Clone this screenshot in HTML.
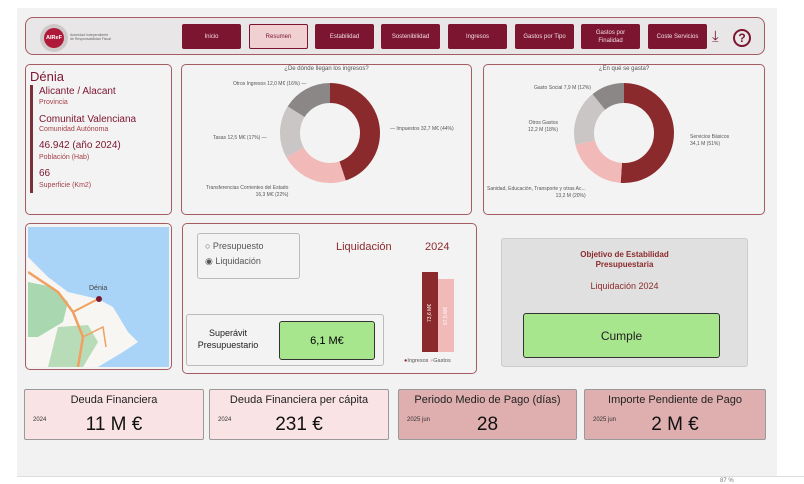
<!DOCTYPE html>
<html><head><meta charset="utf-8"><style>
*{margin:0;padding:0;box-sizing:border-box}
body{width:804px;height:484px;background:#fff;font-family:"Liberation Sans",sans-serif;position:relative;overflow:hidden}
.bg{position:absolute;left:17px;top:8px;width:760px;height:468px;background:#f3f2f2}
.a{position:absolute}
.panel{position:absolute;border:1px solid #a35d62;border-radius:5px;background:#f4f3f3}
.btn{position:absolute;top:24px;height:25px;width:59px;background:#7b1530;color:#f3dfe3;font-size:6px;display:flex;align-items:center;justify-content:center;text-align:center;border-radius:2px;line-height:8px}
.lbl{position:absolute;font-size:5px;color:#555;white-space:nowrap;line-height:7px}
.card{position:absolute;top:389px;height:51px;border:1px solid #999;border-radius:2px}
.card .t{position:absolute;top:4px;width:100%;text-align:center;font-size:11px;color:#222}
.card .y{position:absolute;left:8px;top:27px;font-size:6px;color:#333}
.card .v{position:absolute;top:24px;width:100%;text-align:center;font-size:19px;color:#111}
</style></head><body>
<div class="bg"></div>
<!-- nav -->
<div class="panel" style="left:25px;top:17px;width:740px;height:38px;background:#e8e6e6;border-radius:8px"></div>
<div class="a" style="left:40px;top:24px;width:28px;height:28px;border-radius:50%;background:#cfc8c8"></div>
<div class="a" style="left:44px;top:28px;width:20px;height:20px;border-radius:50%;background:#b01a3a;color:#fff;font-size:5.5px;font-weight:bold;line-height:20px;text-align:center">AIReF</div>
<div class="a" style="left:70px;top:33px;font-size:3.5px;color:#666;line-height:4px">Autoridad Independiente<br>de Responsabilidad Fiscal</div>
<div class="btn" style="left:182px">Inicio</div>
<div class="btn" style="left:249px;background:#f1d0d2;color:#7b1530;border:1px solid #7b1530">Resumen</div>
<div class="btn" style="left:315px">Estabilidad</div>
<div class="btn" style="left:381px">Sostenibilidad</div>
<div class="btn" style="left:448px">Ingresos</div>
<div class="btn" style="left:515px">Gastos por Tipo</div>
<div class="btn" style="left:581px">Gastos por<br>Finalidad</div>
<div class="btn" style="left:648px">Coste Servicios</div>
<div class="a" style="left:712px;top:28px;font-size:15px;color:#7b1530">⤓</div>
<div class="a" style="left:733px;top:29px;width:18px;height:18px;border:2px solid #7b1530;border-radius:50%;color:#7b1530;font-size:12px;font-weight:bold;text-align:center;line-height:14px">?</div>
<!-- info -->
<div class="panel" style="left:25px;top:64px;width:147px;height:151px"></div>
<div class="a" style="left:30px;top:69px;font-size:13px;color:#7b1530">Dénia</div>
<div class="a" style="left:30px;top:85px;width:3px;height:108px;background:#7b3035"></div>
<div class="a" style="left:39px;top:86px;color:#7b1530;line-height:1.15">
<div style="font-size:10px">Alicante / Alacant</div><div style="font-size:7px;color:#a04048;margin-top:1px">Provincia</div>
<div style="font-size:10px;margin-top:7px">Comunitat Valenciana</div><div style="font-size:7px;color:#a04048;margin-top:1px">Comunidad Autónoma</div>
<div style="font-size:10px;margin-top:6px">46.942 (año 2024)</div><div style="font-size:7px;color:#a04048;margin-top:2px">Población (Hab)</div>
<div style="font-size:10px;margin-top:6px">66</div><div style="font-size:7px;color:#a04048;margin-top:3px">Superficie (Km2)</div></div>
<!-- donut 1 -->
<div class="panel" style="left:181px;top:64px;width:291px;height:151px"></div>
<div class="a" style="left:181px;top:66px;width:291px;text-align:center;font-size:6px;color:#555">¿De dónde llegan los ingresos?</div>
<svg class="a" style="left:270px;top:73px" width="120" height="120" viewBox="0 0 120 120">
<g transform="rotate(-90 60 60)" fill="none" stroke-width="20">
<circle cx="60" cy="60" r="40" stroke="#8b2a2c" stroke-dasharray="112.6 300"/>
<circle cx="60" cy="60" r="40" stroke="#f2b9b9" stroke-dasharray="55.3 300" stroke-dashoffset="-112.6"/>
<circle cx="60" cy="60" r="40" stroke="#cbc6c6" stroke-dasharray="42.7 300" stroke-dashoffset="-167.9"/>
<circle cx="60" cy="60" r="40" stroke="#8c8787" stroke-dasharray="40.7 300" stroke-dashoffset="-210.6"/>
</g></svg>
<div class="lbl" style="left:233px;top:81px">Otros Ingresos 12,0 M€ (16%) —</div>
<div class="lbl" style="left:213px;top:135px">Tasas 12,5 M€ (17%) —</div>
<div class="lbl" style="left:390px;top:126px">— Impuestos 32,7 M€ (44%)</div>
<div class="lbl" style="left:206px;top:185px;text-align:right">Transferencias Corrientes del Estado<br>16,3 M€ (22%)</div>
<!-- donut 2 -->
<div class="panel" style="left:483px;top:64px;width:282px;height:151px"></div>
<div class="a" style="left:483px;top:66px;width:282px;text-align:center;font-size:6px;color:#555">¿En qué se gasta?</div>
<svg class="a" style="left:564px;top:73px" width="120" height="120" viewBox="0 0 120 120">
<g transform="rotate(-90 60 60)" fill="none" stroke-width="20">
<circle cx="60" cy="60" r="40" stroke="#8b2a2c" stroke-dasharray="128.2 300"/>
<circle cx="60" cy="60" r="40" stroke="#f2b9b9" stroke-dasharray="50.3 300" stroke-dashoffset="-128.2"/>
<circle cx="60" cy="60" r="40" stroke="#cbc6c6" stroke-dasharray="45.2 300" stroke-dashoffset="-178.5"/>
<circle cx="60" cy="60" r="40" stroke="#8c8787" stroke-dasharray="27.6 300" stroke-dashoffset="-223.7"/>
</g></svg>
<div class="lbl" style="left:534px;top:85px">Gasto Social 7,9 M (12%)</div>
<div class="lbl" style="left:528px;top:120px;text-align:right">Otros Gastos<br>12,2 M (18%)</div>
<div class="lbl" style="left:690px;top:134px">Servicios Básicos<br>34,1 M (51%)</div>
<div class="lbl" style="left:487px;top:186px;text-align:right">Sanidad, Educación, Transporte y otras Ac...<br>13,2 M (20%)</div>
<!-- map -->
<div class="panel" style="left:25px;top:223px;width:147px;height:147px"></div>
<svg class="a" style="left:28px;top:227px" width="141" height="140" viewBox="0 0 141 140">
<rect width="141" height="140" fill="#a9d3f7"/>
<path d="M0 30 L20 50 L40 65 L70 72 L85 80 L100 105 L110 115 L95 125 L70 140 L0 140 Z" fill="#f7f6f3"/>
<path d="M0 55 L25 60 L40 75 L35 95 L10 110 L0 110 Z" fill="#a9d8b0"/>
<path d="M30 100 L60 98 L70 115 L55 140 L20 140 Z" fill="#b8dcb8"/>
<path d="M0 45 L30 65 L45 85 L55 110 L50 140" stroke="#f0a060" stroke-width="2.5" fill="none"/>
<path d="M45 85 L70 72" stroke="#f0a060" stroke-width="2" fill="none"/>
<path d="M55 110 L75 100 L78 120" stroke="#f0a060" stroke-width="1.5" fill="none"/>
<circle cx="71" cy="72" r="3" fill="#7b1530"/>
<text x="61" y="63" font-size="7" fill="#444" font-family="Liberation Sans">Dénia</text>
</svg>
<!-- middle -->
<div class="panel" style="left:182px;top:223px;width:295px;height:151px"></div>
<div class="a" style="left:197px;top:233px;width:103px;height:46px;border:1px solid #bbb;border-radius:3px"></div>
<div class="a" style="left:205px;top:239px;font-size:9px;color:#555;line-height:15px">○ Presupuesto<br>◉ Liquidación</div>
<div class="a" style="left:336px;top:241px;font-size:11px;color:#8b2a2c">Liquidación</div>
<div class="a" style="left:425px;top:241px;font-size:11px;color:#8b2a2c">2024</div>
<div class="a" style="left:186px;top:314px;width:198px;height:52px;border:1px solid #bbb;border-radius:3px"></div>
<div class="a" style="left:190px;top:327px;width:76px;text-align:center;font-size:9px;color:#222;line-height:12px">Superávit<br>Presupuestario</div>
<div class="a" style="left:279px;top:321px;width:96px;height:39px;background:#a8e68e;border:1px solid #333;border-radius:3px;font-size:11px;text-align:center;line-height:38px">6,1 M€</div>
<div class="a" style="left:422px;top:272px;width:16px;height:80px;background:#8b2a2c"></div>
<div class="a" style="left:438px;top:279px;width:16px;height:73px;background:#f2b9b9"></div>
<div class="a" style="left:421px;top:310px;width:18px;font-size:5px;color:#fff;transform:rotate(-90deg);white-space:nowrap">73,6 M€</div>
<div class="a" style="left:437px;top:313px;width:18px;font-size:5px;color:#fff;transform:rotate(-90deg);white-space:nowrap">67,5 M€</div>
<div class="a" style="left:404px;top:358px;font-size:5.5px;color:#555"><span style="color:#8b2a2c">●</span>Ingresos <span style="color:#f2b9b9">●</span>Gastos</div>
<!-- objective -->
<div class="a" style="left:501px;top:238px;width:247px;height:129px;background:#e1e0e0;border:1px solid #ccc;border-radius:3px"></div>
<div class="a" style="left:501px;top:250px;width:247px;text-align:center;font-size:8px;font-weight:bold;color:#8b2a2c;line-height:10px">Objetivo de Estabilidad<br>Presupuestaria</div>
<div class="a" style="left:501px;top:281px;width:247px;text-align:center;font-size:9px;color:#8b2a2c">Liquidación 2024</div>
<div class="a" style="left:523px;top:313px;width:197px;height:45px;background:#a8e68e;border:1px solid #333;border-radius:3px;text-align:center;line-height:44px;font-size:12px;color:#222">Cumple</div>
<!-- cards -->
<div class="card" style="left:24px;width:180px;background:#f9e3e4"><div class="t">Deuda Financiera</div><div class="y">2024</div><div class="v">11 M €</div></div>
<div class="card" style="left:209px;width:180px;background:#f9e3e4"><div class="t">Deuda Financiera per cápita</div><div class="y">2024</div><div class="v">231 €</div></div>
<div class="card" style="left:398px;width:179px;background:#dfaeaf"><div class="t">Periodo Medio de Pago (días)</div><div class="y">2025 jun</div><div class="v">28</div></div>
<div class="card" style="left:584px;width:182px;background:#dfaeaf"><div class="t">Importe Pendiente de Pago</div><div class="y">2025 jun</div><div class="v">2 M €</div></div>
<div class="a" style="left:17px;top:476px;width:787px;height:1px;background:#ddd"></div>
<div class="a" style="left:720px;top:478px;font-size:6px;color:#777">87 %</div>
</body></html>
